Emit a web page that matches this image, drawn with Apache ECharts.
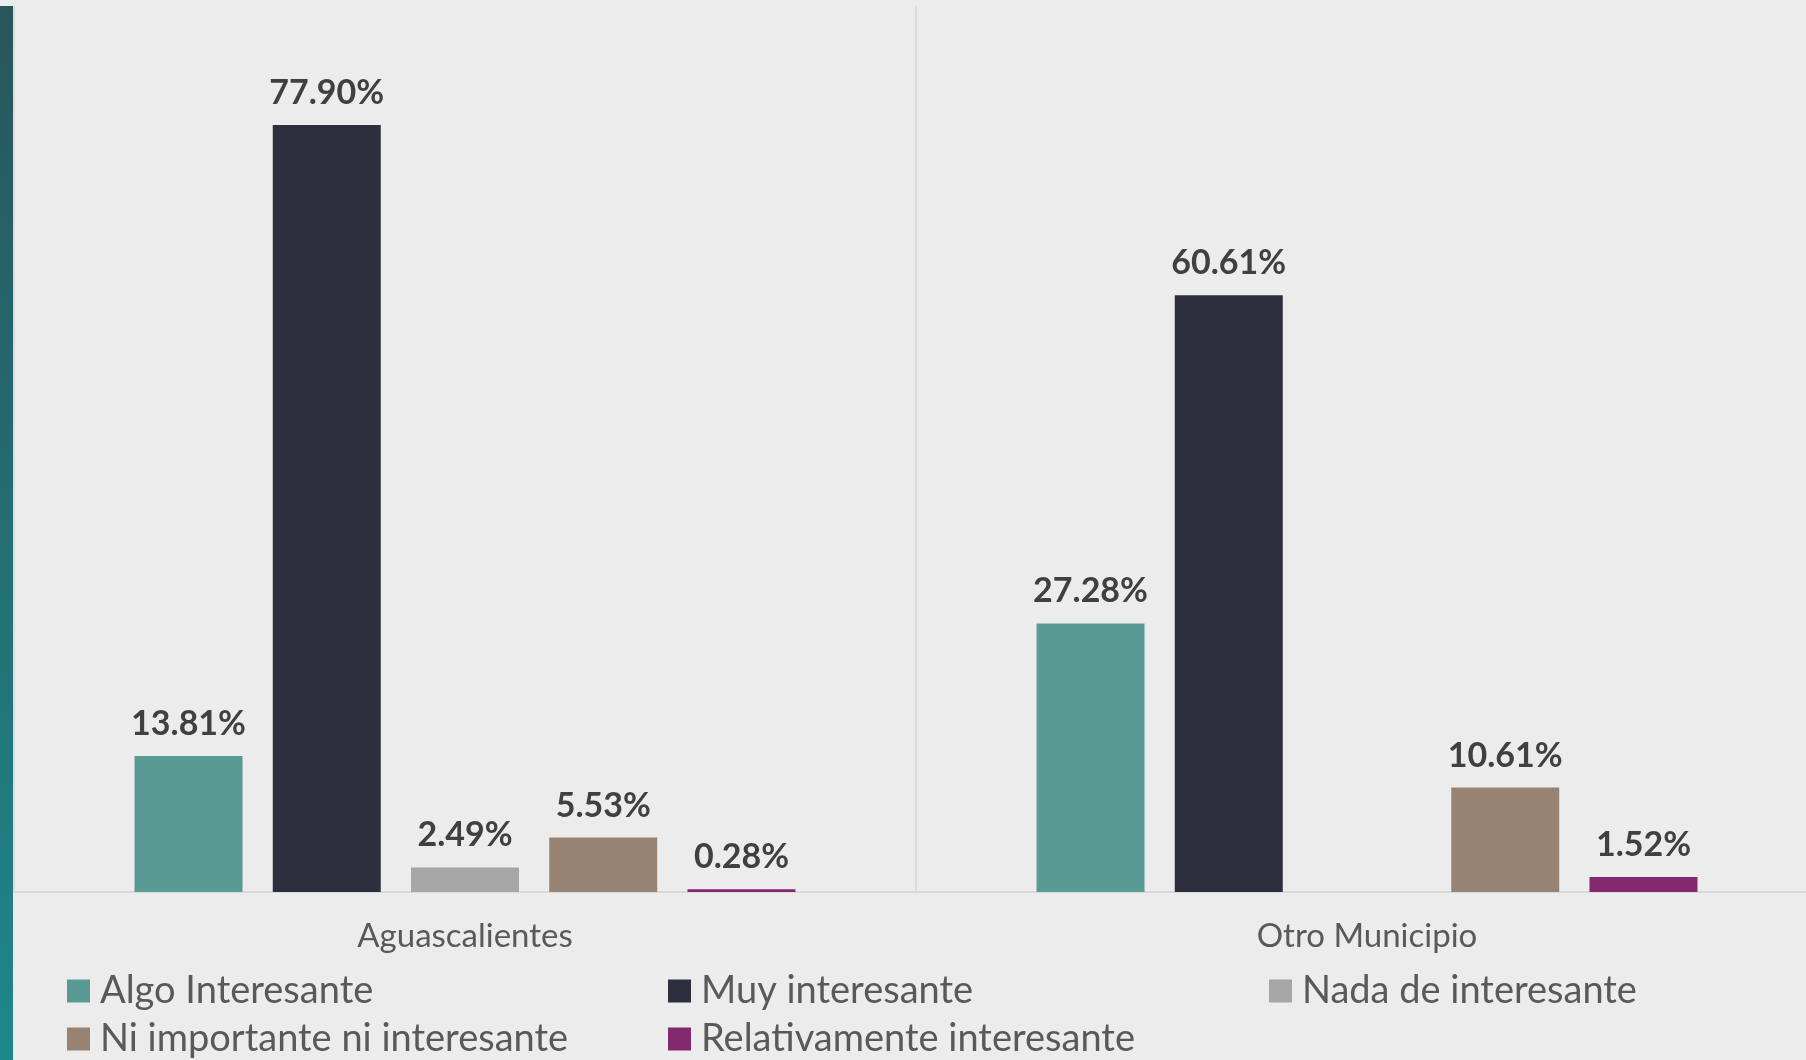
<!DOCTYPE html>
<html>
<head>
<meta charset="utf-8">
<script src="https://cdn.jsdelivr.net/npm/echarts@6/dist/echarts.min.js"></script>
<style>
html,body{margin:0;padding:0;background:#ececec;overflow:hidden;}
#chart{width:1818px;height:1060px;}
</style>
</head>
<body>
<div id="chart"></div>
<script>
const categories = ['Aguascalientes', 'Otro Municipio'];
const seriesNames = ['Algo Interesante', 'Muy interesante', 'Nada de interesante', 'Ni importante ni interesante', 'Relativamente interesante'];
const algoInteresante = [13.81, 27.28];
const muyInteresante = [77.90, 60.61];
const nadaInteresante = [2.49, null];
const niImportante = [5.53, 10.61];
const relativamente = [0.28, 1.52];
const seriesColors = ['#599a95', '#2e2f3e', '#a6a6a6', '#968373', '#83296f'];

const values = [algoInteresante, muyInteresante, nadaInteresante, niImportante, relativamente];

const chart = echarts.init(document.getElementById('chart'));
const FONT = 'Lato, "Open Sans", sans-serif';

chart.setOption({
  backgroundColor: '#ececec',
  animation: false,
  graphic: [{
    type: 'rect',
    shape: {x: 0, y: 6, width: 13, height: 1054},
    style: {
      fill: new echarts.graphic.LinearGradient(0, 0, 0, 1, [
        {offset: 0, color: '#29555d'},
        {offset: 1, color: '#1e878a'}
      ])
    },
    z: 10
  }],
  grid: {left: 14, right: 0, top: 6, bottom: 168, containLabel: false},
  legend: {
    left: 67,
    top: 972,
    width: 1800,
    padding: 0,
    itemWidth: 23,
    itemHeight: 23,
    itemGap: 10,
    icon: 'rect',
    data: seriesNames,
    textStyle: {
      fontFamily: FONT,
      fontSize: 38,
      lineHeight: 36,
      color: '#595959',
      width: 558,
      padding: [0, 0, 0, 5]
    }
  },
  xAxis: {
    type: 'category',
    data: categories,
    axisLine: {show: true, lineStyle: {color: '#d9d9d9', width: 2}},
    axisTick: {show: false},
    splitLine: {show: true, lineStyle: {color: '#dcdcdc', width: 2}},
    axisLabel: {
      fontFamily: FONT,
      fontSize: 33,
      lineHeight: 33,
      color: '#595959',
      margin: 28
    }
  },
  yAxis: {
    type: 'value',
    min: 0,
    max: 90,
    show: false,
    splitLine: {show: false}
  },
  series: seriesNames.map((name, i) => ({
    name: name,
    type: 'bar',
    data: values[i].map(v => v === null ? '-' : v),
    barWidth: 108,
    barGap: '28%',
    itemStyle: {color: seriesColors[i]},
    label: {
      show: true,
      position: 'top',
      distance: 15,
      fontFamily: FONT,
      fontSize: 34,
      lineHeight: 34,
      fontWeight: 'bold',
      color: '#404040',
      formatter: p => p.value.toFixed(2) + '%'
    }
  }))
});
</script>
</body>
</html>
